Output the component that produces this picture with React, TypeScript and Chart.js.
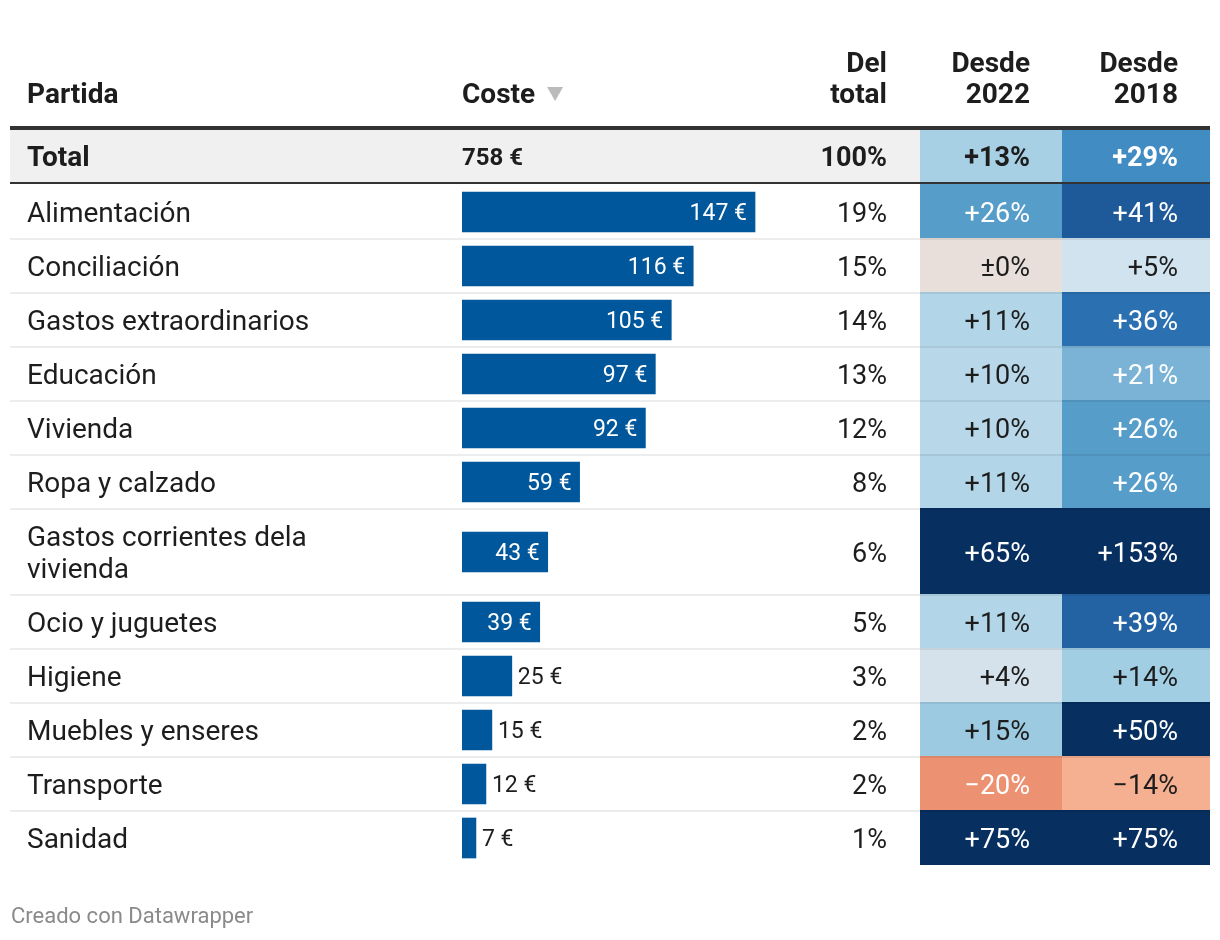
import { useEffect, useRef } from 'react';
import { Chart, registerables } from 'chart.js';

Chart.register(...registerables);

// ---------- data ----------
const partidas = [
  'Alimentación',
  'Conciliación',
  'Gastos extraordinarios',
  'Educación',
  'Vivienda',
  'Ropa y calzado',
  'Gastos corrientes dela vivienda',
  'Ocio y juguetes',
  'Higiene',
  'Muebles y enseres',
  'Transporte',
  'Sanidad',
];
const coste = [147, 116, 105, 97, 92, 59, 43, 39, 25, 15, 12, 7];
const delTotal = [19, 15, 14, 13, 12, 8, 6, 5, 3, 2, 2, 1];
const desde2022 = [26, 0, 11, 10, 10, 11, 65, 11, 4, 15, -20, 75];
const desde2018 = [41, 5, 36, 21, 26, 26, 153, 39, 14, 50, -14, 75];

const totalLabel = 'Total';
const totalCoste = 758;
const totalDelTotal = 100;
const totalDesde2022 = 13;
const totalDesde2018 = 29;

const headerPartida = ['Partida'];
const headerCoste = ['Coste'];
const headerDelTotal = ['Del', 'total'];
const headerDesde2022 = ['Desde', '2022'];
const headerDesde2018 = ['Desde', '2018'];
const footerText = 'Creado con Datawrapper';

// ---------- style / layout ----------
const FONT = 'Roboto';
const FS = 28;
const VAL_FS = 27;
const BAR_FS = 23;
const TEXT = '#1d1d1d';
const BAR_COLOR = '#01579b';
const ROW_H = 54;
const LINE_H = 32;
const LABEL_MAX_W = 350;
const TABLE_L = 10;
const TABLE_R = 1210;
const COL_LABEL_X = 27;
const COL_COSTE_X = 462;
const COL_SHARE_R = 887;
const HEAT1 = [920, 1062];
const HEAT2 = [1062, 1210];
const HEAT_PAD = 32;
const ROWS_TOP = 185;
const X_MAX = 150;
const X_PX = 299;

const HEAT_STOPS: [number, string][] = [
  [-20, '#ec9172'],
  [-14, '#f5af91'],
  [0, '#e8dfdb'],
  [5, '#d0e3ef'],
  [10, '#b8d8e9'],
  [15, '#9ccbe1'],
  [21, '#7ab3d6'],
  [26, '#579dca'],
  [29, '#418cc2'],
  [36, '#2b70b0'],
  [41, '#1e5a9a'],
  [50, '#072f5f'],
];

function hexToRgb(h: string): number[] {
  const n = parseInt(h.slice(1), 16);
  return [(n >> 16) & 255, (n >> 8) & 255, n & 255];
}

function heatRgb(v: number): number[] {
  if (v <= HEAT_STOPS[0][0]) return hexToRgb(HEAT_STOPS[0][1]);
  const last = HEAT_STOPS[HEAT_STOPS.length - 1];
  if (v >= last[0]) return hexToRgb(last[1]);
  for (let i = 0; i < HEAT_STOPS.length - 1; i++) {
    const [a, ca] = HEAT_STOPS[i];
    const [b, cb] = HEAT_STOPS[i + 1];
    if (v >= a && v <= b) {
      const t = (v - a) / (b - a);
      const A = hexToRgb(ca);
      const B = hexToRgb(cb);
      return A.map((c, k) => Math.round(c + (B[k] - c) * t));
    }
  }
  return [255, 255, 255];
}

function lum(rgb: number[]): number {
  const lin = rgb.map((c) => {
    const s = c / 255;
    return s <= 0.03928 ? s / 12.92 : Math.pow((s + 0.055) / 1.055, 2.4);
  });
  return 0.2126 * lin[0] + 0.7152 * lin[1] + 0.0722 * lin[2];
}

function fmtPct(v: number): string {
  if (v > 0) return '+' + v + '%';
  if (v < 0) return '\u2212' + Math.abs(v) + '%';
  return '\u00b10%';
}

function wrap(ctx: CanvasRenderingContext2D, text: string, maxW: number): string[] {
  const words = text.split(' ');
  const lines: string[] = [];
  let cur = '';
  for (const w of words) {
    const test = cur ? cur + ' ' + w : w;
    if (ctx.measureText(test).width > maxW && cur) {
      lines.push(cur);
      cur = w;
    } else cur = test;
  }
  if (cur) lines.push(cur);
  return lines;
}

export default function App() {
  const ref = useRef<HTMLCanvasElement>(null);

  useEffect(() => {
    const canvas = ref.current!;
    const mctx = canvas.getContext('2d')!;
    mctx.font = `400 ${FS}px ${FONT}`;
    let acc = 0;
    const rows = partidas.map((p) => {
      const lines = wrap(mctx, p, LABEL_MAX_W);
      const h = ROW_H + (lines.length - 1) * LINE_H;
      const r = { top: acc, h, lines, center: acc + h / 2 };
      acc += h;
      return r;
    });
    const totalH = acc;

    const drawHeat = (ctx: CanvasRenderingContext2D, x0: number, x1: number, top: number, bot: number, v: number) => {
      const rgb = heatRgb(v);
      ctx.fillStyle = `rgb(${rgb[0]},${rgb[1]},${rgb[2]})`;
      ctx.fillRect(x0, top, x1 - x0, bot - top);
    };
    const heatText = (ctx: CanvasRenderingContext2D, x1: number, cy: number, v: number, weight: number) => {
      const rgb = heatRgb(v);
      ctx.fillStyle = lum(rgb) < 0.46 ? '#ffffff' : TEXT;
      ctx.font = `${weight} ${VAL_FS}px ${FONT}`;
      ctx.textAlign = 'right';
      ctx.fillText(fmtPct(v), x1 - HEAT_PAD, cy + VAL_FS * 0.355);
    };

    const tablePlugin = {
      id: 'tablePlugin',
      beforeDatasetsDraw(chart: any) {
        const ctx: CanvasRenderingContext2D = chart.ctx;
        const y = chart.scales.y;
        ctx.save();
        // total row
        ctx.fillStyle = '#f0f0f0';
        ctx.fillRect(TABLE_L, 130, TABLE_R - TABLE_L, 52);
        drawHeat(ctx, HEAT1[0], HEAT1[1], 130, 182, totalDesde2022);
        drawHeat(ctx, HEAT2[0], HEAT2[1], 130, 182, totalDesde2018);
        // heat cells
        rows.forEach((r, i) => {
          const top = y.getPixelForValue(r.top);
          const bot = y.getPixelForValue(r.top + r.h);
          drawHeat(ctx, HEAT1[0], HEAT1[1], top - 1, bot, desde2022[i]);
          drawHeat(ctx, HEAT2[0], HEAT2[1], top - 1, bot, desde2018[i]);
        });
        // separators
        ctx.fillStyle = 'rgba(0,0,0,0.07)';
        rows.forEach((r, i) => {
          if (i === rows.length - 1) return;
          const bot = y.getPixelForValue(r.top + r.h);
          ctx.fillRect(TABLE_L, bot - 1, TABLE_R - TABLE_L, 2);
        });
        ctx.fillStyle = '#333333';
        ctx.fillRect(TABLE_L, 126, TABLE_R - TABLE_L, 4);
        ctx.fillRect(TABLE_L, 182, TABLE_R - TABLE_L, 2);
        ctx.restore();
      },
      afterDatasetsDraw(chart: any) {
        const ctx: CanvasRenderingContext2D = chart.ctx;
        const y = chart.scales.y;
        const meta = chart.getDatasetMeta(0);
        ctx.save();
        ctx.textBaseline = 'alphabetic';

        // headers
        ctx.fillStyle = TEXT;
        ctx.font = `700 ${FS}px ${FONT}`;
        const base2 = 103;
        const base1 = 72;
        const hdr = (lines: string[], x: number, align: CanvasTextAlign) => {
          ctx.textAlign = align;
          const n = lines.length;
          lines.forEach((l, k) => {
            ctx.fillText(l, x, n === 2 ? (k === 0 ? base1 : base2) : base2);
          });
        };
        hdr(headerPartida, COL_LABEL_X, 'left');
        hdr(headerCoste, COL_COSTE_X, 'left');
        hdr(headerDelTotal, COL_SHARE_R, 'right');
        hdr(headerDesde2022, HEAT1[1] - HEAT_PAD, 'right');
        hdr(headerDesde2018, HEAT2[1] - HEAT_PAD, 'right');
        // sort arrow
        ctx.textAlign = 'left';
        const cw = ctx.measureText(headerCoste[0]).width;
        const ax = COL_COSTE_X + cw + 12;
        ctx.fillStyle = '#bbbbbb';
        ctx.beginPath();
        ctx.moveTo(ax, 87);
        ctx.lineTo(ax + 16, 87);
        ctx.lineTo(ax + 8, 101);
        ctx.closePath();
        ctx.fill();

        // total row
        const tc = 156;
        ctx.fillStyle = TEXT;
        ctx.font = `700 ${FS}px ${FONT}`;
        ctx.textAlign = 'left';
        ctx.fillText(totalLabel, COL_LABEL_X, tc + FS * 0.355);
        ctx.font = `700 24px ${FONT}`;
        ctx.fillText(totalCoste + ' \u20ac', COL_COSTE_X, tc + 24 * 0.355);
        ctx.font = `700 ${VAL_FS}px ${FONT}`;
        ctx.textAlign = 'right';
        ctx.fillText(totalDelTotal + '%', COL_SHARE_R, tc + VAL_FS * 0.355);
        heatText(ctx, HEAT1[1], tc, totalDesde2022, 700);
        heatText(ctx, HEAT2[1], tc, totalDesde2018, 700);

        // rows
        rows.forEach((r, i) => {
          const cy = y.getPixelForValue(r.center);
          ctx.fillStyle = TEXT;
          ctx.font = `400 ${FS}px ${FONT}`;
          ctx.textAlign = 'left';
          const n = r.lines.length;
          r.lines.forEach((l, k) => {
            const ly = cy + (k - (n - 1) / 2) * LINE_H;
            ctx.fillText(l, COL_LABEL_X, ly + FS * 0.355);
          });
          ctx.font = `400 ${VAL_FS}px ${FONT}`;
          ctx.textAlign = 'right';
          ctx.fillText(delTotal[i] + '%', COL_SHARE_R, cy + VAL_FS * 0.355);
          heatText(ctx, HEAT1[1], cy, desde2022[i], 400);
          heatText(ctx, HEAT2[1], cy, desde2018[i], 400);

          // bar label
          const bar = meta.data[i];
          const label = coste[i] + ' \u20ac';
          ctx.font = `400 ${BAR_FS}px ${FONT}`;
          const tw = ctx.measureText(label).width;
          const bw = bar.x - bar.base;
          if (tw + 16 < bw) {
            ctx.fillStyle = '#ffffff';
            ctx.textAlign = 'right';
            ctx.fillText(label, bar.x - 8, cy + BAR_FS * 0.355);
          } else {
            ctx.fillStyle = TEXT;
            ctx.textAlign = 'left';
            ctx.fillText(label, bar.x + 6, cy + BAR_FS * 0.355);
          }
        });

        // footer
        ctx.fillStyle = '#8a8a8a';
        ctx.font = `400 22px ${FONT}`;
        ctx.textAlign = 'left';
        ctx.fillText(footerText, 11, 923);
        ctx.restore();
      },
    };

    const chart = new Chart(canvas, {
      type: 'bar',
      data: {
        datasets: [
          {
            data: rows.map((r, i) => ({ x: coste[i], y: r.center })) as any,
            backgroundColor: BAR_COLOR,
            borderWidth: 0,
            barThickness: 40,
          },
        ],
      },
      options: {
        indexAxis: 'y',
        animation: false,
        responsive: false,
        devicePixelRatio: 1,
        layout: {
          padding: {
            left: COL_COSTE_X,
            right: 1220 - COL_COSTE_X - X_PX,
            top: ROWS_TOP,
            bottom: 940 - ROWS_TOP - totalH,
          },
        },
        scales: {
          x: { type: 'linear', min: 0, max: X_MAX, display: false, offset: false },
          y: { type: 'linear', min: 0, max: totalH, reverse: true, display: false, offset: false },
        },
        plugins: {
          legend: { display: false },
          tooltip: { enabled: false },
        },
      },
      plugins: [tablePlugin],
    });
    return () => chart.destroy();
  }, []);

  return (
    <div style={{ position: 'fixed', left: 0, top: 0, width: 1220, height: 940, background: '#ffffff' }}>
      <canvas ref={ref} width={1220} height={940} style={{ display: 'block' }} />
    </div>
  );
}
